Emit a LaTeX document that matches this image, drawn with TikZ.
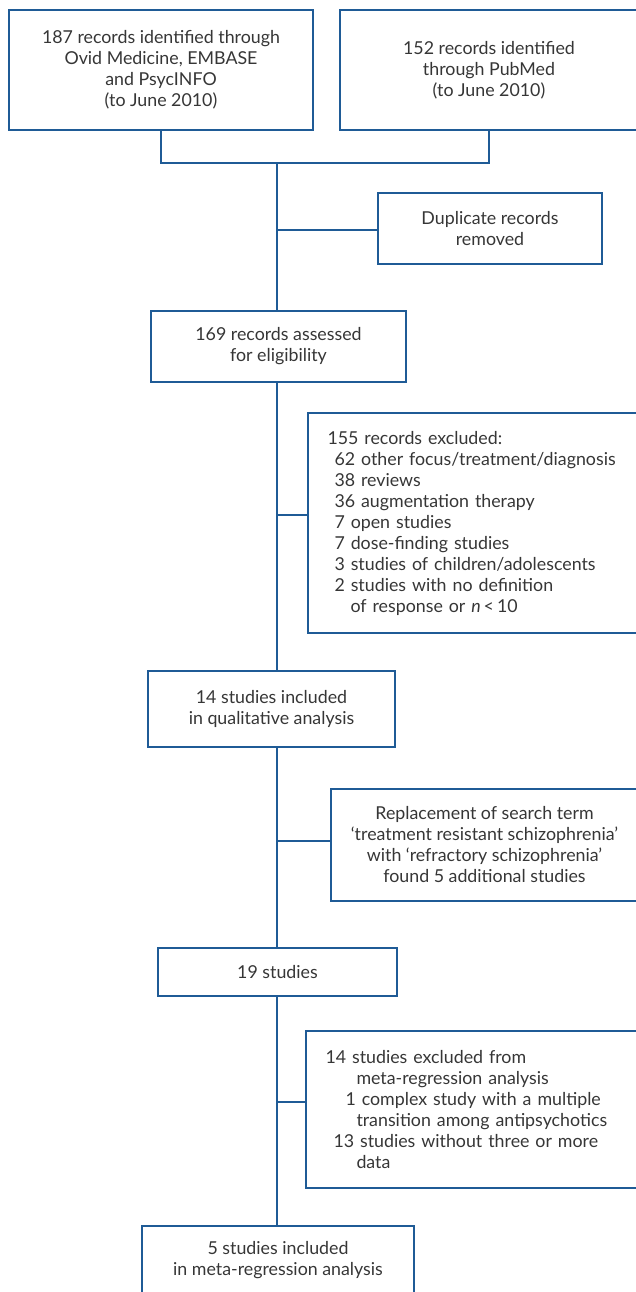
\documentclass[tikz,border=0pt]{standalone}
\usepackage{fontspec}
\setmainfont{Lato}
\definecolor{flowblue}{HTML}{1F5B96}
\definecolor{flowtext}{HTML}{363636}
\tikzset{
  box/.style={draw=flowblue, line width=2pt, anchor=north west, inner sep=0pt,
    align=center, text=flowtext, font=\fontsize{17.8}{21}\selectfont},
  listbox/.style={box, align=left, inner xsep=19.5pt},
  link/.style={draw=flowblue, line width=2pt},
}
\begin{document}
\begin{tikzpicture}[x=1pt, y=-1pt]
\useasboundingbox (0,0) rectangle (636,1292);
% sources
\node[box, minimum width=304pt, minimum height=120pt] (ovid) at (8,9)
  {187 records identified through\\Ovid Medicine, EMBASE\\and PsycINFO\\(to June 2010)};
\node[box, minimum width=298pt, minimum height=120pt] (pubmed) at (339,9)
  {152 records identified\\through PubMed\\(to June 2010)};
\coordinate (merge) at (277,163);
% screening
\node[box, minimum width=224pt, minimum height=71pt] (dup) at (377,192)
  {Duplicate records\\removed};
\node[box, minimum width=255pt, minimum height=71pt] (assessed) at (150,310)
  {169 records assessed\\for eligibility};
\node[listbox, text width=320pt, minimum height=220pt] (excl) at (307,412)
  {155 records excluded:\\
   \hspace*{7pt}62 other focus/treatment/diagnosis\\
   \hspace*{7pt}38 reviews\\
   \hspace*{7pt}36 augmentation therapy\\
   \hspace*{7pt}7 open studies\\
   \hspace*{7pt}7 dose-finding studies\\
   \hspace*{7pt}3 studies of children/adolescents\\
   \hspace*{7pt}2 studies with no definition\\
   \hspace*{23pt}of response or \textit{n}\,<\,10};
\node[box, minimum width=247pt, minimum height=76pt] (qual) at (147,670)
  {14 studies included\\in qualitative analysis};
\node[box, minimum width=307pt, minimum height=112pt] (repl) at (330,788)
  {Replacement of search term\\‘treatment resistant schizophrenia’\\with ‘refractory schizophrenia’\\found 5 additional studies};
\node[box, minimum width=239pt, minimum height=48pt] (nineteen) at (157,947)
  {19 studies};
\node[listbox, text width=320pt, minimum height=157pt] (meta) at (305,1030)
  {14 studies excluded from\\
   \hspace*{31pt}meta-regression analysis\\
   \hspace*{20pt}1 complex study with a multiple\\
   \hspace*{31pt}transition among antipsychotics\\
   \hspace*{8pt}13 studies without three or more\\
   \hspace*{31pt}data};
\node[box, minimum width=272pt, minimum height=69pt] (final) at (141,1225)
  {5 studies included\\in meta-regression analysis};
% connectors
\draw[link] (ovid.south) |- (merge) -| (pubmed.south);
\draw[link] (merge) -- (merge |- assessed.north);
\draw[link] ([yshift=-1pt]dup.west) -- ([yshift=-1pt]dup.west -| merge);
\draw[link] (merge |- assessed.south) -- (merge |- qual.north);
\draw[link] ([yshift=8pt]excl.west) -- ([yshift=8pt]excl.west -| merge);
\draw[link] (merge |- qual.south) -- (merge |- nineteen.north);
\draw[link] ([yshift=4pt]repl.west) -- ([yshift=4pt]repl.west -| merge);
\draw[link] (merge |- nineteen.south) -- (merge |- final.north);
\draw[link] ([yshift=8pt]meta.west) -- ([yshift=8pt]meta.west -| merge);
\end{tikzpicture}
\end{document}
